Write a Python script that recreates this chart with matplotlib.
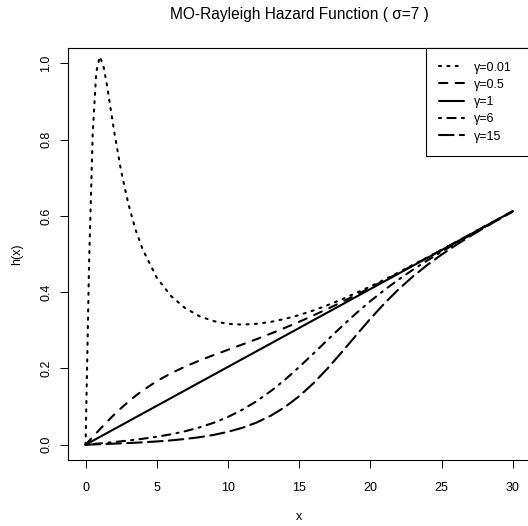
import matplotlib
matplotlib.use('Agg')
import matplotlib.pyplot as plt

# MO-Rayleigh hazard values (sigma = 7)
x = [0, 0.25, 0.5, 0.75, 1, 1.25, 1.5, 2, 2.5, 3, 3.5, 4, 5, 6, 7, 8, 9, 10,
     11, 12, 13, 14, 15, 16, 17, 18, 19, 20, 21, 22, 23, 24, 25, 26, 27, 28, 29, 30]

h_001 = [0, 0.480, 0.815, 0.977, 1.018, 0.994, 0.943, 0.823, 0.717, 0.632, 0.565, 0.513,
         0.438, 0.390, 0.358, 0.337, 0.324, 0.317, 0.315, 0.317, 0.322, 0.330, 0.340,
         0.352, 0.366, 0.381, 0.398, 0.415, 0.433, 0.452, 0.472, 0.491, 0.511, 0.531,
         0.551, 0.572, 0.592, 0.612]
h_05 = [0, 0.0102, 0.0204, 0.0304, 0.0404, 0.0502, 0.0599, 0.0785, 0.0961, 0.1126, 0.1278,
        0.1419, 0.1666, 0.1873, 0.2050, 0.2207, 0.2351, 0.2489, 0.2627, 0.2767, 0.2913,
        0.3065, 0.3223, 0.3390, 0.3563, 0.3742, 0.3927, 0.4116, 0.4310, 0.4506, 0.4705,
        0.4905, 0.5106, 0.5309, 0.5512, 0.5715, 0.5919, 0.6123]
h_1 = [0, 0.0051, 0.0102, 0.0153, 0.0204, 0.0255, 0.0306, 0.0408, 0.0510, 0.0612, 0.0714,
       0.0816, 0.1020, 0.1224, 0.1429, 0.1633, 0.1837, 0.2041, 0.2245, 0.2449, 0.2653,
       0.2857, 0.3061, 0.3265, 0.3469, 0.3673, 0.3878, 0.4082, 0.4286, 0.4490, 0.4694,
       0.4898, 0.5102, 0.5306, 0.5510, 0.5714, 0.5918, 0.6122]
h_6 = [0, 0.0009, 0.0017, 0.0026, 0.0034, 0.0043, 0.0052, 0.0070, 0.0090, 0.0110, 0.0132,
       0.0156, 0.0209, 0.0274, 0.0354, 0.0453, 0.0576, 0.0728, 0.0915, 0.1139, 0.1403,
       0.1704, 0.2036, 0.2389, 0.2749, 0.3104, 0.3445, 0.3764, 0.4060, 0.4335, 0.4590,
       0.4830, 0.5059, 0.5279, 0.5494, 0.5705, 0.5913, 0.6119]
h_15 = [0, 0.0003, 0.0007, 0.0010, 0.0014, 0.0017, 0.0021, 0.0028, 0.0036, 0.0044, 0.0053,
        0.0063, 0.0086, 0.0114, 0.0151, 0.0197, 0.0258, 0.0338, 0.0443, 0.0580, 0.0759,
        0.0987, 0.1271, 0.1611, 0.2001, 0.2428, 0.2868, 0.3301, 0.3709, 0.4081, 0.4414,
        0.4713, 0.4983, 0.5232, 0.5465, 0.5688, 0.5903, 0.6114]

labels = ['\u03b3=0.01', '\u03b3=0.5', '\u03b3=1', '\u03b3=6', '\u03b3=15']

plt.rcParams['font.family'] = ['Liberation Sans', 'DejaVu Sans']
plt.rcParams['axes.unicode_minus'] = False

fig = plt.figure(figsize=(5.28, 5.26), dpi=100)
ax = fig.add_axes([0.1297, 0.1255, 0.8737, 0.7831])

lw = 1.5
kw = dict(color='black', lw=lw, dash_capstyle='round', solid_capstyle='round')
ax.plot(x, h_001, ls=(0, (1, 3)), label=labels[0], **kw)
ax.plot(x, h_05, ls=(0, (4, 4)), label=labels[1], **kw)
ax.plot(x, h_1, ls='-', label=labels[2], **kw)
ax.plot(x, h_6, ls=(0, (1, 3, 4, 3)), label=labels[3], **kw)
ax.plot(x, h_15, ls=(0, (7, 3)), label=labels[4], **kw)

ax.set_xlim(-1.2, 31.2)
ax.set_ylim(-0.04, 1.04)
ax.set_xticks([0, 5, 10, 15, 20, 25, 30])
ax.set_yticks([0.0, 0.2, 0.4, 0.6, 0.8, 1.0])
ax.set_yticklabels(['0.0', '0.2', '0.4', '0.6', '0.8', '1.0'], rotation=90, va='center')
ax.tick_params(direction='out', length=5.5, width=0.7, labelsize=9)
ax.tick_params(axis='x', pad=10.4)
ax.tick_params(axis='y', pad=6.2)
for s in ax.spines.values():
    s.set_linewidth(0.8)

ax.set_xlabel('x', fontsize=9, labelpad=12.5)
ax.set_ylabel('h(x)', fontsize=9, labelpad=12.5)
fig.text(299 / 528, 1 - 15 / 526, 'MO-Rayleigh Hazard Function ( \u03c3=7 )',
         fontsize=11.2, ha='center', va='center')

# legend box stretched to the R width (topright, flush with the frame)
leg_w = 104 / 461.3
leg = ax.legend(loc='upper right', bbox_to_anchor=(1 - leg_w, 0.0, leg_w, 1.0),
                mode='expand', borderaxespad=0, fontsize=9, handlelength=1.95,
                fancybox=False, edgecolor='black', framealpha=1, borderpad=1.08,
                labelspacing=0.42, handletextpad=0.8)
leg.get_frame().set_linewidth(0.8)

fig.savefig('out.png', dpi=100)
